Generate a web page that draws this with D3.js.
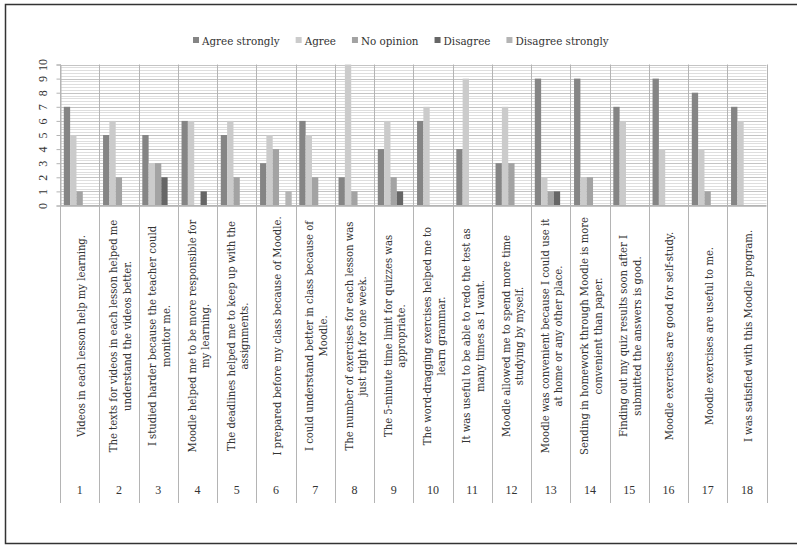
<!DOCTYPE html>
<html lang="en">
<head>
<meta charset="UTF-8">
<title>Moodle survey</title>
<style>
    body { margin: 0; background: #fff; }
    svg { display: block; }
    .lbl { font-family: "DejaVu Serif Condensed", "DejaVu Serif", serif; fill: #333; }
    .num { font-family: "Liberation Serif", serif; fill: #333; }
</style>
</head>
<body>
<svg id="chart" width="797" height="546"></svg>
<script src="https://d3js.org/d3.v7.min.js"></script>
<script>

// ---- data ----
var series = ["Agree strongly", "Agree", "No opinion", "Disagree", "Disagree strongly"];
var colors = ["#858585", "#cbcbcb", "#a3a3a3", "#666666", "#b4b4b4"];
var itemNumbers = d3.range(1, 19).map(String);
var agreeStrongly    = [7, 5, 5, 6, 5, 3, 6, 2, 4, 6, 4, 3, 9, 9, 7, 9, 8, 7];
var agree            = [5, 6, 3, 6, 6, 5, 5, 10, 6, 7, 9, 7, 2, 2, 6, 4, 4, 6];
var noOpinion        = [1, 2, 3, 0, 2, 4, 2, 1, 2, 0, 0, 3, 1, 2, 0, 0, 1, 0];
var disagree         = [0, 0, 2, 1, 0, 0, 0, 0, 1, 0, 0, 0, 1, 0, 0, 0, 0, 0];
var disagreeStrongly = [0, 0, 0, 0, 0, 1, 0, 0, 0, 0, 0, 0, 0, 0, 0, 0, 0, 0];
var statements = [
    ["Videos in each lesson help my learning."],
    ["The texts for videos in each lesson helped me", "understand the videos better."],
    ["I studied harder because the teacher could", "monitor me."],
    ["Moodle helped me to be more responsible for", "my learning."],
    ["The deadlines helped me to keep up with the", "assignments."],
    ["I prepared before my class because of Moodle."],
    ["I could understand better in class because of", "Moodle."],
    ["The number of exercises for each lesson was", "just right for one week."],
    ["The 5-minute time limit for quizzes was", "appropriate."],
    ["The word-dragging exercises helped me to", "learn grammar."],
    ["It was useful to be able to redo the test as", "many times as I want."],
    ["Moodle allowed me to spend more time", "studying by myself."],
    ["Moodle was convenient because I could use it", "at home or any other place."],
    ["Sending in homework through Moodle is more", "convenient than paper."],
    ["Finding out my quiz results soon after I", "submitted the answers is good."],
    ["Moodle exercises are good for self-study."],
    ["Moodle exercises are useful to me."],
    ["I was satisfied with this Moodle program."]
];
var yTicks = d3.range(0, 11);

var values = [agreeStrongly, agree, noOpinion, disagree, disagreeStrongly];

var svg = d3.select("#chart");

// outer frame
svg.append("rect")
    .attr("x", 5.5).attr("y", 4.5)
    .attr("width", 820).attr("height", 539)
    .attr("fill", "none").attr("stroke", "#333").attr("stroke-width", 1.5);

var plotLeft = 60, plotRight = 766.5, plotTop = 64.5, zeroY = 205.5, tableBottom = 503;

var x = d3.scaleBand().domain(itemNumbers).range([plotLeft, plotRight]).padding(0);
var xs = d3.scaleBand().domain(series).range([0, x.bandwidth()]).paddingInner(0).paddingOuter(0.6);
var y = d3.scaleLinear().domain([0, 10]).range([zeroY, plotTop]);

// gridlines, fine steps of 0.2
svg.append("g").selectAll("line")
    .data(d3.range(0, 51).map(k => k / 5))
    .join("line")
    .attr("x1", plotLeft).attr("x2", plotRight)
    .attr("y1", d => Math.round(y(d)) + 0.5).attr("y2", d => Math.round(y(d)) + 0.5)
    .attr("stroke", d => Number.isInteger(d) ? "#c4c4c4" : "#dedede")
    .attr("stroke-width", 1);

// column dividers (plot + table)
svg.append("g").selectAll("line")
    .data(itemNumbers.concat(["end"]))
    .join("line")
    .attr("x1", d => Math.round(d === "end" ? plotRight : x(d)) + 0.5)
    .attr("x2", d => Math.round(d === "end" ? plotRight : x(d)) + 0.5)
    .attr("y1", plotTop).attr("y2", tableBottom)
    .attr("stroke", "#b4b4b4");

// bars
series.forEach(function (s, si) {
    svg.append("g").selectAll("rect")
        .data(values[si].map((v, i) => ({ item: itemNumbers[i], v: v })).filter(d => d.v > 0))
        .join("rect")
        .attr("x", d => x(d.item) + xs(s))
        .attr("width", xs.bandwidth())
        .attr("y", d => y(d.v))
        .attr("height", d => zeroY - y(d.v))
        .attr("fill", colors[si]);
});

// baseline
svg.append("line")
    .attr("x1", plotLeft).attr("x2", plotRight)
    .attr("y1", zeroY).attr("y2", zeroY)
    .attr("stroke", "#b4b4b4");

// y axis
var yAxis = svg.append("g").attr("transform", "translate(" + (plotLeft + 0.5) + ",0)")
    .call(d3.axisLeft(y).tickValues(yTicks).tickSize(4).tickFormat(d3.format("d")));
yAxis.select(".domain").attr("stroke", "#b4b4b4");
yAxis.selectAll(".tick line").attr("stroke", "#b4b4b4");
yAxis.selectAll(".tick text")
    .attr("class", "num")
    .attr("x", null).attr("dy", null)
    .attr("font-size", 12)
    .attr("text-anchor", "middle")
    .attr("dominant-baseline", "central")
    .attr("transform", "translate(-18,0) rotate(-90)");

// statements, rotated
var lineH = 13.5;
statements.forEach(function (lines, i) {
    var cx = x(itemNumbers[i]) + x.bandwidth() / 2 + 1.5;
    lines.forEach(function (t, li) {
        var off = (li - (lines.length - 1) / 2) * lineH;
        svg.append("text")
            .attr("class", "lbl")
            .attr("font-size", 11.2)
            .attr("text-anchor", "middle")
            .attr("dominant-baseline", "central")
            .attr("transform", "translate(" + (cx + off) + ",336) rotate(-90)")
            .text(t);
    });
});

// item numbers
svg.append("g").selectAll("text")
    .data(itemNumbers)
    .join("text")
    .attr("class", "num")
    .attr("font-size", 12)
    .attr("text-anchor", "middle")
    .attr("x", d => x(d) + x.bandwidth() / 2)
    .attr("y", 494)
    .text(d => d);

// legend
var lg = svg.append("g").attr("transform", "translate(193,41)");
var lx = 0;
series.forEach(function (s, i) {
    lg.append("rect")
        .attr("x", lx).attr("y", -4)
        .attr("width", 6).attr("height", 6)
        .attr("fill", colors[i]);
    var t = lg.append("text")
        .attr("class", "lbl")
        .attr("font-size", 11.5)
        .attr("x", lx + 9).attr("y", 0)
        .attr("dominant-baseline", "central")
        .text(s);
    lx += 9 + t.node().getComputedTextLength() + 16;
});

</script>
</body>
</html>
